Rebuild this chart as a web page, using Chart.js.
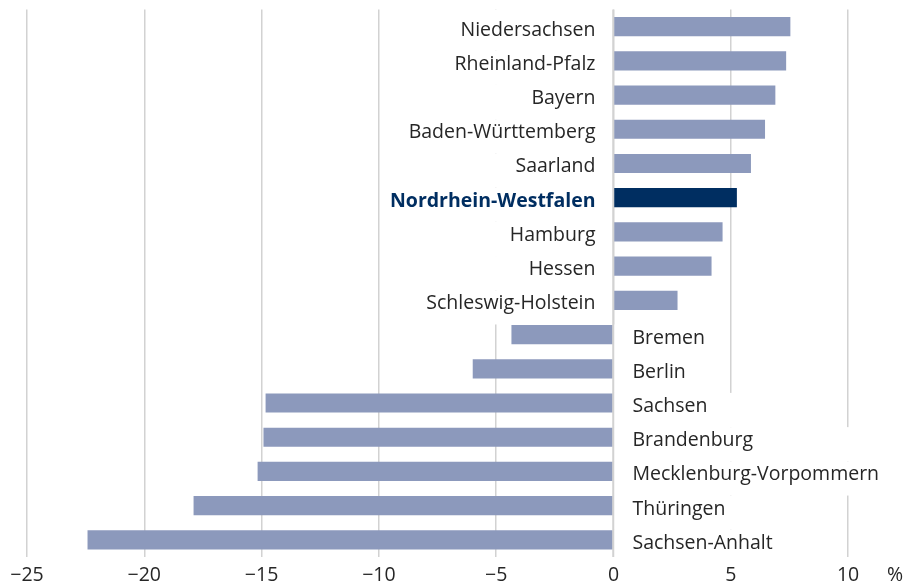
<!DOCTYPE html>
<html>
<head>
<meta charset="utf-8">
<script src="https://cdn.jsdelivr.net/npm/chart.js@4/dist/chart.umd.min.js"></script>
<style>
  html, body { margin: 0; padding: 0; background: #fff; }
  #wrap { width: 917px; height: 583px; }
</style>
</head>
<body>
<div id="wrap"><canvas id="chart" width="917" height="583"></canvas></div>
<script>
// data (change in %)
const states = [
  'Niedersachsen', 'Rheinland-Pfalz', 'Bayern', 'Baden-Württemberg', 'Saarland',
  'Nordrhein-Westfalen', 'Hamburg', 'Hessen', 'Schleswig-Holstein', 'Bremen',
  'Berlin', 'Sachsen', 'Brandenburg', 'Mecklenburg-Vorpommern', 'Thüringen', 'Sachsen-Anhalt'
];
const changes = [
  7.54, 7.36, 6.9, 6.46, 5.86,
  5.26, 4.65, 4.18, 2.73, -4.35,
  -6.0, -14.83, -14.92, -15.17, -17.9, -22.42
];
const highlight = 'Nordrhein-Westfalen';
const tickValues = [-25, -20, -15, -10, -5, 0, 5, 10];
const unitLabel = '%';

// how far the white box behind each label reaches (in axis units), hides grid lines
const labelMaskTo = [-9, -9, -9, -9, -9, -9, -9, -9, -9, 4.5, 4.5, 7, 12, 12, 8, 8];

const FONT = '"Open Sans", "Noto Sans", sans-serif';
const FONT_SIZE = 19.5;
const barColor = '#8c99bc';
const navy = '#002e61';
const textColor = '#262626';

const labelPlugin = {
  id: 'rowLabels',
  beforeDatasetsDraw(chart) {
    const { ctx, chartArea, scales } = chart;
    const x = scales.x, y = scales.y;
    const x0 = x.getPixelForValue(0);
    const band = (chartArea.bottom - chartArea.top) / states.length;
    const off = 7;
    ctx.save();
    ctx.fillStyle = '#fff';
    states.forEach((s, i) => {
      const c = y.getPixelForValue(i);
      let top = c - band / 2 + off, bot = c + band / 2 + off;
      if (i === 0) top = chartArea.top;
      if (i === states.length - 1) bot = chartArea.bottom;
      const xm = x.getPixelForValue(labelMaskTo[i]);
      if (changes[i] >= 0) ctx.fillRect(xm, top, x0 - 1 - xm, bot - top);
      else ctx.fillRect(x0 + 1, top, xm - x0 - 1, bot - top);
    });
    ctx.textBaseline = 'alphabetic';
    states.forEach((s, i) => {
      const c = y.getPixelForValue(i) + 9;
      const isHi = s === highlight;
      ctx.font = (isHi ? 'bold ' : '') + FONT_SIZE + 'px ' + FONT;
      ctx.fillStyle = isHi ? navy : textColor;
      if (changes[i] >= 0) {
        ctx.textAlign = 'right';
        ctx.fillText(s, x0 - 18, c);
      } else {
        ctx.textAlign = 'left';
        ctx.fillText(s, x0 + 19, c);
      }
    });
    ctx.restore();
  },
  afterDatasetsDraw(chart) {
    const { ctx, chartArea, scales } = chart;
    const x0 = scales.x.getPixelForValue(0);
    ctx.save();
    ctx.strokeStyle = '#d2d2d2';
    ctx.lineWidth = 1.5;
    ctx.beginPath();
    ctx.moveTo(x0 - 0.5, chartArea.top);
    ctx.lineTo(x0 - 0.5, chartArea.bottom);
    ctx.stroke();
    ctx.restore();
  }
};

new Chart(document.getElementById('chart'), {
  type: 'bar',
  data: {
    labels: states,
    datasets: [{
      data: changes,
      backgroundColor: states.map(s => s === highlight ? navy : barColor),
      borderWidth: 0,
      barPercentage: 0.56,
      categoryPercentage: 1
    }]
  },
  options: {
    indexAxis: 'y',
    responsive: false,
    animation: false,
    layout: { padding: { top: 9.5, left: 27, right: 22, bottom: -11.5 } },
    plugins: { legend: { display: false }, tooltip: { enabled: false } },
    scales: {
      x: {
        min: -25,
        max: 12,
        afterBuildTicks(scale) {
          scale.ticks = tickValues.map(v => ({ value: v })).concat([{ value: 12 }]);
        },
        border: { display: false },
        grid: {
          drawTicks: false,
          lineWidth: 1.5,
          color: ctx => (ctx.tick && ctx.tick.value === 12) ? 'rgba(0,0,0,0)' : '#d2d2d2'
        },
        ticks: {
          autoSkip: false,
          maxRotation: 0,
          padding: 9,
          color: textColor,
          font: { family: FONT, size: FONT_SIZE, lineHeight: 1 },
          callback: v => v === 12 ? unitLabel : (v < 0 ? '\u2212' + Math.abs(v) : String(v))
        }
      },
      y: { display: false }
    }
  },
  plugins: [labelPlugin]
});
</script>
</body>
</html>
